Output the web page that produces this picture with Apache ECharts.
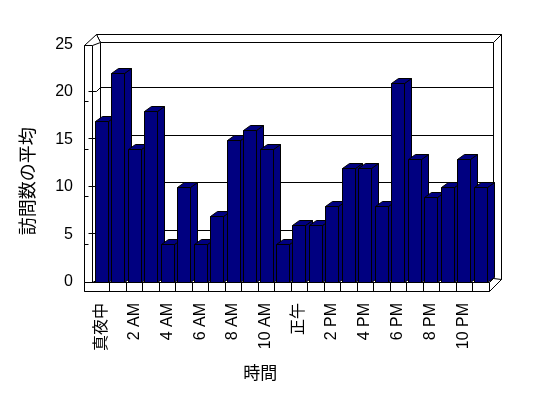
<!DOCTYPE html>
<html>
<head>
<meta charset="utf-8">
<script src="https://cdn.jsdelivr.net/npm/echarts@6/dist/echarts.min.js"></script>
<style>html,body{margin:0;padding:0;background:#fff}#c{width:548px;height:398px}</style>
</head>
<body>
<div id="c"></div>
<script>
// ---- data ----
const categories = ['真夜中','1 AM','2 AM','3 AM','4 AM','5 AM','6 AM','7 AM','8 AM','9 AM','10 AM','11 AM',
                    '正午','1 PM','2 PM','3 PM','4 PM','5 PM','6 PM','7 PM','8 PM','9 PM','10 PM','11 PM'];
const visits = [17,22,14,18,4,10,4,7,15,16,14,4,6,6,8,12,12,8,21,13,9,10,13,10];
const yTickValues = [0,5,10,15,20,25];
const xTitle = '時間';
const yTitle = '訪問数の平均';

const FONT = '"Liberation Sans","Noto Sans CJK JP",sans-serif';
const LINE = {stroke:'#000', lineWidth:1, fill:null};
const BD = [6.6, -4.6]; // bar depth offset

const s = (v) => Math.round(v) + 0.5; // crisp pixel snapping

function poly(points, fill) {
  return {type:'polygon', shape:{points: points.map(p => [s(p[0]), s(p[1])])},
          style:{fill: fill || '#fff', stroke:'#000', lineWidth:1}};
}
function pl(points) {
  return {type:'polyline', shape:{points: points.map(p => [s(p[0]), s(p[1])])}, style:LINE};
}

function frameItem(params, api) {
  const cs = params.coordSys;
  const L = cs.x, R = cs.x + cs.width, T = cs.y, B = cs.y + cs.height;
  const band = api.size([1, 0])[0];
  const ch = [];
  // back wall inner face
  ch.push(poly([[L+7,T-3],[R+4.5,T-3],[R+4.5,B-4.5],[L+7,B-4.5]]));
  // back wall top strip
  ch.push(poly([[L+3,T-11],[R+12.5,T-11],[R+4.5,T-3],[L+7,T-3]]));
  // back wall right end
  ch.push(poly([[R+4.5,T-3],[R+12.5,T-11],[R+12.5,B-3],[R+4.5,B+5]]));
  // left wall front face and top
  ch.push(poly([[L-9,T],[L-1,T],[L-1,B+9],[L-9,B+9]]));
  ch.push(poly([[L-9,T],[L+3,T-11],[L+7,T-3],[L-1,T]]));
  // floor top, front face, right face
  ch.push(poly([[L-1,B],[R+0.5,B],[R+4.5,B-4.5],[L+7,B-4.5]]));
  ch.push(poly([[L-9,B],[R+0.5,B],[R+0.5,B+9],[L-9,B+9]]));
  ch.push(poly([[R+0.5,B],[R+4.5,B-4.5],[R+12.5,B-3],[R+0.5,B+9]]));
  // gridlines & ticks
  yTickValues.forEach(v => {
    if (v === 0 || v === 25) return;
    const y = api.coord([0, v])[1];
    ch.push(pl([[L-5,y-1.5],[L+3,y-1.5],[L+7,y-4.6],[R+4.5,y-4.6]]));
    ch.push(pl([[L-9,y+9],[L-5,y+9]]));
  });
  // category dividers on floor front
  for (let k = 1; k < categories.length; k++) {
    const x = L + k*band;
    ch.push(pl([[x,B],[x,B+9]]));
  }
  return {type:'group', children: ch};
}

function barItem(params, api) {
  const idx = api.value(0), v = api.value(1);
  const top = api.coord([idx, v]);
  const base = api.coord([idx, 0]);
  const band = api.size([1, 0])[0];
  const w = band * 0.79;
  const x0 = s(top[0] - w/2), x1 = s(top[0] + w/2);
  const yT = s(top[1]), yB = s(base[1]);
  const dx = Math.round(BD[0]), dy = Math.round(BD[1]);
  const st = {fill:'#000080', stroke:'#000', lineWidth:1};
  return {type:'group', children:[
    {type:'polygon', shape:{points:[[x1,yT],[x1+dx,yT+dy],[x1+dx,yB+dy],[x1,yB]]}, style:st},
    {type:'polygon', shape:{points:[[x0,yT],[x1,yT],[x1+dx,yT+dy],[x0+dx,yT+dy]]}, style:st},
    {type:'rect', shape:{x:x0, y:yT, width:x1-x0, height:yB-yT}, style:st}
  ]};
}

const chart = echarts.init(document.getElementById('c'), null, {renderer:'canvas'});
chart.setOption({
  animation:false,
  backgroundColor:'#fff',
  grid:{left:93, top:44.5, right:59.5, bottom:116, containLabel:false},
  xAxis:{
    type:'category', data:categories, boundaryGap:true,
    axisLine:{show:false}, axisTick:{show:false}, splitLine:{show:false},
    axisLabel:{interval:1, rotate:90, margin:21, fontSize:16, color:'#000', fontFamily:FONT},
    name:xTitle, nameLocation:'middle', nameGap:84,
    nameTextStyle:{fontSize:17, color:'#000', fontFamily:FONT, padding:[0,61,0,0]}
  },
  yAxis:{
    type:'value', min:0, max:25, interval:5,
    axisLine:{show:false}, axisTick:{show:false}, splitLine:{show:false},
    axisLabel:{margin:20, fontSize:16, color:'#000', fontFamily:FONT},
    name:yTitle, nameLocation:'middle', nameGap:55, nameRotate:90,
    nameTextStyle:{fontSize:18, color:'#000', fontFamily:FONT, padding:[0,36,0,0]}
  },
  series:[
    {type:'custom', renderItem:frameItem, data:[[0,0]], encode:{x:0,y:1}, silent:true, z:1},
    {type:'custom', renderItem:barItem, data:visits.map((v,i)=>[i,v]), encode:{x:0,y:1}, z:2}
  ]
});
</script>
</body>
</html>
